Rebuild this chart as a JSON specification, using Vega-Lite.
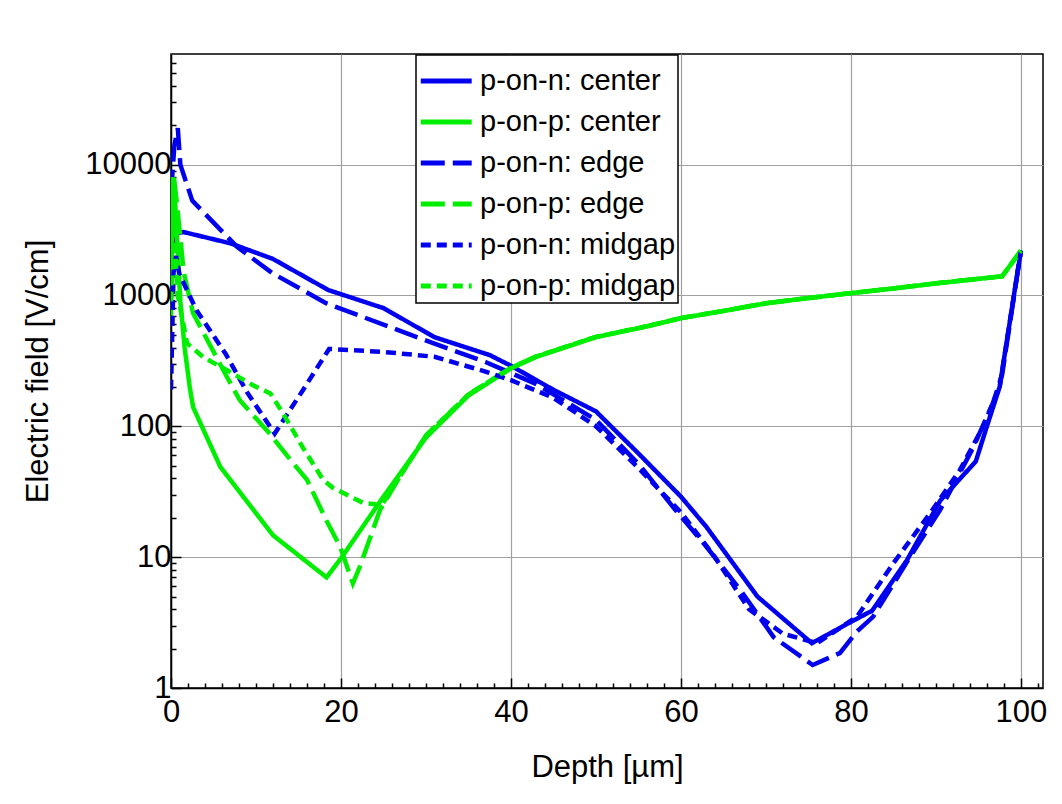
{
  "$schema": "https://vega.github.io/schema/vega-lite/v6.json",
  "width": 872,
  "height": 634,
  "autosize": "none",
  "padding": {"left": 171, "top": 54, "right": 19, "bottom": 116},
  "background": "white",
  "config": {
    "font": "Liberation Sans",
    "view": {"stroke": "black", "strokeWidth": 1.5}
  },
  "data": {
    "values": [
      {"s": "p-on-n: center", "x": 0, "y": 2000},
      {"s": "p-on-n: center", "x": 0.6, "y": 3000},
      {"s": "p-on-n: center", "x": 1.5, "y": 3050},
      {"s": "p-on-n: center", "x": 7, "y": 2500},
      {"s": "p-on-n: center", "x": 12, "y": 1900},
      {"s": "p-on-n: center", "x": 18.5, "y": 1100},
      {"s": "p-on-n: center", "x": 25, "y": 800},
      {"s": "p-on-n: center", "x": 31, "y": 480},
      {"s": "p-on-n: center", "x": 37.5, "y": 350},
      {"s": "p-on-n: center", "x": 40, "y": 290},
      {"s": "p-on-n: center", "x": 45, "y": 190},
      {"s": "p-on-n: center", "x": 50, "y": 130},
      {"s": "p-on-n: center", "x": 55, "y": 62},
      {"s": "p-on-n: center", "x": 60, "y": 29},
      {"s": "p-on-n: center", "x": 63, "y": 17},
      {"s": "p-on-n: center", "x": 69, "y": 5},
      {"s": "p-on-n: center", "x": 75.4, "y": 2.2},
      {"s": "p-on-n: center", "x": 80, "y": 3.2},
      {"s": "p-on-n: center", "x": 82.5, "y": 3.9},
      {"s": "p-on-n: center", "x": 86.6, "y": 9.5},
      {"s": "p-on-n: center", "x": 90.5, "y": 27},
      {"s": "p-on-n: center", "x": 94.7, "y": 54},
      {"s": "p-on-n: center", "x": 96, "y": 100},
      {"s": "p-on-n: center", "x": 97.5, "y": 200},
      {"s": "p-on-n: center", "x": 100, "y": 2200},

      {"s": "p-on-p: center", "x": 0, "y": 700},
      {"s": "p-on-p: center", "x": 0.2, "y": 7000},
      {"s": "p-on-p: center", "x": 0.5, "y": 5000},
      {"s": "p-on-p: center", "x": 1.1, "y": 900},
      {"s": "p-on-p: center", "x": 1.6, "y": 400},
      {"s": "p-on-p: center", "x": 2.2, "y": 200},
      {"s": "p-on-p: center", "x": 2.6, "y": 140},
      {"s": "p-on-p: center", "x": 5.8, "y": 49},
      {"s": "p-on-p: center", "x": 12, "y": 14.7},
      {"s": "p-on-p: center", "x": 18.3, "y": 7},
      {"s": "p-on-p: center", "x": 20.1, "y": 10},
      {"s": "p-on-p: center", "x": 25, "y": 29},
      {"s": "p-on-p: center", "x": 30, "y": 82},
      {"s": "p-on-p: center", "x": 35, "y": 172},
      {"s": "p-on-p: center", "x": 40, "y": 277},
      {"s": "p-on-p: center", "x": 43, "y": 340},
      {"s": "p-on-p: center", "x": 50, "y": 480},
      {"s": "p-on-p: center", "x": 56, "y": 580},
      {"s": "p-on-p: center", "x": 60, "y": 670},
      {"s": "p-on-p: center", "x": 65, "y": 760},
      {"s": "p-on-p: center", "x": 70, "y": 870},
      {"s": "p-on-p: center", "x": 75, "y": 955},
      {"s": "p-on-p: center", "x": 80, "y": 1040},
      {"s": "p-on-p: center", "x": 85, "y": 1130},
      {"s": "p-on-p: center", "x": 90, "y": 1235},
      {"s": "p-on-p: center", "x": 97.8, "y": 1400},
      {"s": "p-on-p: center", "x": 100, "y": 2200},

      {"s": "p-on-n: edge", "x": 0, "y": 6000},
      {"s": "p-on-n: edge", "x": 0.4, "y": 14000},
      {"s": "p-on-n: edge", "x": 0.8, "y": 19000},
      {"s": "p-on-n: edge", "x": 1.1, "y": 10000},
      {"s": "p-on-n: edge", "x": 2.5, "y": 5300},
      {"s": "p-on-n: edge", "x": 7.8, "y": 2340},
      {"s": "p-on-n: edge", "x": 12, "y": 1470},
      {"s": "p-on-n: edge", "x": 18.3, "y": 870},
      {"s": "p-on-n: edge", "x": 29.3, "y": 470},
      {"s": "p-on-n: edge", "x": 37, "y": 310},
      {"s": "p-on-n: edge", "x": 43, "y": 210},
      {"s": "p-on-n: edge", "x": 50, "y": 112},
      {"s": "p-on-n: edge", "x": 55.2, "y": 50},
      {"s": "p-on-n: edge", "x": 59.1, "y": 24},
      {"s": "p-on-n: edge", "x": 63, "y": 12},
      {"s": "p-on-n: edge", "x": 67, "y": 5.6},
      {"s": "p-on-n: edge", "x": 70.9, "y": 2.45},
      {"s": "p-on-n: edge", "x": 75.5, "y": 1.5},
      {"s": "p-on-n: edge", "x": 78.7, "y": 1.85},
      {"s": "p-on-n: edge", "x": 80.7, "y": 2.7},
      {"s": "p-on-n: edge", "x": 82.6, "y": 3.5},
      {"s": "p-on-n: edge", "x": 86.6, "y": 9.2},
      {"s": "p-on-n: edge", "x": 90.5, "y": 23},
      {"s": "p-on-n: edge", "x": 94.4, "y": 69},
      {"s": "p-on-n: edge", "x": 96.7, "y": 150},
      {"s": "p-on-n: edge", "x": 97.8, "y": 250},
      {"s": "p-on-n: edge", "x": 100, "y": 2200},

      {"s": "p-on-p: edge", "x": 0, "y": 3000},
      {"s": "p-on-p: edge", "x": 0.3, "y": 8500},
      {"s": "p-on-p: edge", "x": 0.7, "y": 5000},
      {"s": "p-on-p: edge", "x": 1.5, "y": 1500},
      {"s": "p-on-p: edge", "x": 2.6, "y": 730},
      {"s": "p-on-p: edge", "x": 6.6, "y": 237},
      {"s": "p-on-p: edge", "x": 8.1, "y": 158},
      {"s": "p-on-p: edge", "x": 11.6, "y": 88},
      {"s": "p-on-p: edge", "x": 14.4, "y": 52},
      {"s": "p-on-p: edge", "x": 16, "y": 39},
      {"s": "p-on-p: edge", "x": 18.3, "y": 19},
      {"s": "p-on-p: edge", "x": 19.9, "y": 12},
      {"s": "p-on-p: edge", "x": 21.4, "y": 6.3},
      {"s": "p-on-p: edge", "x": 22.2, "y": 8.4},
      {"s": "p-on-p: edge", "x": 24.6, "y": 23},
      {"s": "p-on-p: edge", "x": 26.9, "y": 41},
      {"s": "p-on-p: edge", "x": 30, "y": 85},
      {"s": "p-on-p: edge", "x": 35, "y": 175},
      {"s": "p-on-p: edge", "x": 40, "y": 280},
      {"s": "p-on-p: edge", "x": 43, "y": 342},
      {"s": "p-on-p: edge", "x": 50, "y": 482},
      {"s": "p-on-p: edge", "x": 56, "y": 582},
      {"s": "p-on-p: edge", "x": 60, "y": 672},
      {"s": "p-on-p: edge", "x": 65, "y": 762},
      {"s": "p-on-p: edge", "x": 70, "y": 872},
      {"s": "p-on-p: edge", "x": 75, "y": 957},
      {"s": "p-on-p: edge", "x": 80, "y": 1042},
      {"s": "p-on-p: edge", "x": 85, "y": 1132},
      {"s": "p-on-p: edge", "x": 90, "y": 1237},
      {"s": "p-on-p: edge", "x": 97.8, "y": 1402},
      {"s": "p-on-p: edge", "x": 100, "y": 2200},

      {"s": "p-on-n: midgap", "x": 0, "y": 190},
      {"s": "p-on-n: midgap", "x": 0.3, "y": 1500},
      {"s": "p-on-n: midgap", "x": 0.6, "y": 2000},
      {"s": "p-on-n: midgap", "x": 1, "y": 1450},
      {"s": "p-on-n: midgap", "x": 3, "y": 770},
      {"s": "p-on-n: midgap", "x": 6.4, "y": 360},
      {"s": "p-on-n: midgap", "x": 9, "y": 180},
      {"s": "p-on-n: midgap", "x": 12.2, "y": 88},
      {"s": "p-on-n: midgap", "x": 15.5, "y": 188},
      {"s": "p-on-n: midgap", "x": 18.6, "y": 390},
      {"s": "p-on-n: midgap", "x": 25, "y": 370},
      {"s": "p-on-n: midgap", "x": 31, "y": 340},
      {"s": "p-on-n: midgap", "x": 37, "y": 262},
      {"s": "p-on-n: midgap", "x": 40, "y": 225},
      {"s": "p-on-n: midgap", "x": 45, "y": 165},
      {"s": "p-on-n: midgap", "x": 50, "y": 100},
      {"s": "p-on-n: midgap", "x": 55, "y": 48},
      {"s": "p-on-n: midgap", "x": 60, "y": 22},
      {"s": "p-on-n: midgap", "x": 64, "y": 10},
      {"s": "p-on-n: midgap", "x": 68, "y": 4},
      {"s": "p-on-n: midgap", "x": 72, "y": 2.6},
      {"s": "p-on-n: midgap", "x": 76, "y": 2.2},
      {"s": "p-on-n: midgap", "x": 80.7, "y": 3.5},
      {"s": "p-on-n: midgap", "x": 85, "y": 9},
      {"s": "p-on-n: midgap", "x": 89.3, "y": 21.6},
      {"s": "p-on-n: midgap", "x": 92.8, "y": 46},
      {"s": "p-on-n: midgap", "x": 95.5, "y": 98},
      {"s": "p-on-n: midgap", "x": 97.5, "y": 200},
      {"s": "p-on-n: midgap", "x": 100, "y": 2200},

      {"s": "p-on-p: midgap", "x": 0, "y": 900},
      {"s": "p-on-p: midgap", "x": 0.3, "y": 3500},
      {"s": "p-on-p: midgap", "x": 0.8, "y": 1000},
      {"s": "p-on-p: midgap", "x": 1.9, "y": 430},
      {"s": "p-on-p: midgap", "x": 3.8, "y": 337},
      {"s": "p-on-p: midgap", "x": 6.6, "y": 268},
      {"s": "p-on-p: midgap", "x": 9.7, "y": 205},
      {"s": "p-on-p: midgap", "x": 11.7, "y": 178},
      {"s": "p-on-p: midgap", "x": 13.2, "y": 125},
      {"s": "p-on-p: midgap", "x": 15.5, "y": 69},
      {"s": "p-on-p: midgap", "x": 17.9, "y": 39},
      {"s": "p-on-p: midgap", "x": 19, "y": 34},
      {"s": "p-on-p: midgap", "x": 22.6, "y": 26},
      {"s": "p-on-p: midgap", "x": 24.8, "y": 25},
      {"s": "p-on-p: midgap", "x": 26.9, "y": 41},
      {"s": "p-on-p: midgap", "x": 30, "y": 85},
      {"s": "p-on-p: midgap", "x": 35, "y": 175},
      {"s": "p-on-p: midgap", "x": 40, "y": 280},
      {"s": "p-on-p: midgap", "x": 43, "y": 342},
      {"s": "p-on-p: midgap", "x": 50, "y": 482},
      {"s": "p-on-p: midgap", "x": 56, "y": 582},
      {"s": "p-on-p: midgap", "x": 60, "y": 672},
      {"s": "p-on-p: midgap", "x": 65, "y": 762},
      {"s": "p-on-p: midgap", "x": 70, "y": 872},
      {"s": "p-on-p: midgap", "x": 75, "y": 957},
      {"s": "p-on-p: midgap", "x": 80, "y": 1042},
      {"s": "p-on-p: midgap", "x": 85, "y": 1132},
      {"s": "p-on-p: midgap", "x": 90, "y": 1237},
      {"s": "p-on-p: midgap", "x": 97.8, "y": 1402},
      {"s": "p-on-p: midgap", "x": 100, "y": 2200}
    ]
  },
  "mark": {"type": "line", "strokeWidth": 4.5, "clip": true},
  "encoding": {
    "x": {
      "field": "x",
      "type": "quantitative",
      "scale": {"domain": [0, 102.6], "nice": false, "zero": false},
      "axis": {
        "title": "Depth [µm]",
        "titleFontSize": 31,
        "titleFontWeight": "normal",
        "titleColor": "black",
        "titlePadding": 20,
        "values": [0,2,4,6,8,10,12,14,16,18,20,22,24,26,28,30,32,34,36,38,40,42,44,46,48,50,52,54,56,58,60,62,64,66,68,70,72,74,76,78,80,82,84,86,88,90,92,94,96,98,100,102],
        "labelExpr": "datum.value % 20 === 0 ? datum.value : ''",
        "labelFontSize": 31,
        "labelColor": "black",
        "labelPadding": 19,
        "labelOverlap": false,
        "labelFlush": false,
        "domainColor": "black",
        "domainWidth": 1.5,
        "tickColor": "black",
        "tickWidth": 1.5,
        "tickSize": {"condition": {"test": "datum.value % 20 === 0", "value": -10}, "value": -5},
        "grid": true,
        "gridColor": "#a0a0a0",
        "gridWidth": 1.2,
        "gridOpacity": {"condition": {"test": "datum.value % 20 === 0", "value": 1}, "value": 0}
      }
    },
    "y": {
      "field": "y",
      "type": "quantitative",
      "scale": {"type": "log", "domain": [1, 70000], "nice": false},
      "axis": {
        "title": "Electric field [V/cm]",
        "titleFontSize": 31,
        "titleFontWeight": "normal",
        "titleColor": "black",
        "titlePadding": 30,
        "values": [1,2,3,4,5,6,7,8,9,10,20,30,40,50,60,70,80,90,100,200,300,400,500,600,700,800,900,1000,2000,3000,4000,5000,6000,7000,8000,9000,10000,20000,30000,40000,50000,60000],
        "labelExpr": "indexof([1,10,100,1000,10000], datum.value) >= 0 ? format(datum.value, 'd') : ''",
        "labelFontSize": 31,
        "labelColor": "black",
        "labelPadding": 10,
        "labelOverlap": false,
        "labelFlush": false,
        "domainColor": "black",
        "domainWidth": 1.5,
        "tickColor": "black",
        "tickWidth": 1.5,
        "tickSize": {"condition": {"test": "indexof([1,10,100,1000,10000], datum.value) >= 0", "value": -10}, "value": -5},
        "grid": true,
        "gridColor": "#a0a0a0",
        "gridWidth": 1.2,
        "gridOpacity": {"condition": {"test": "indexof([1,10,100,1000,10000], datum.value) >= 0", "value": 1}, "value": 0}
      }
    },
    "color": {
      "field": "s",
      "type": "nominal",
      "scale": {
        "domain": ["p-on-n: center", "p-on-p: center", "p-on-n: edge", "p-on-p: edge", "p-on-n: midgap", "p-on-p: midgap"],
        "range": ["#0000ee", "#00ee00", "#0000ee", "#00ee00", "#0000ee", "#00ee00"]
      },
      "legend": {
        "title": null,
        "orient": "none",
        "legendX": 245,
        "legendY": 1,
        "fillColor": "white",
        "strokeColor": "black",
        "padding": 2,
        "symbolType": "M-1,0H1.4",
        "symbolSize": 1800,
        "symbolStrokeWidth": 5,
        "labelFontSize": 29,
        "labelColor": "black",
        "labelOffset": 14,
        "labelLimit": 400,
        "rowPadding": 2,
        "encode": {"legend": {"update": {"strokeWidth": {"value": 1.5}}}}
      }
    },
    "strokeDash": {
      "field": "s",
      "type": "nominal",
      "scale": {
        "domain": ["p-on-n: center", "p-on-p: center", "p-on-n: edge", "p-on-p: edge", "p-on-n: midgap", "p-on-p: midgap"],
        "range": [[1, 0], [1, 0], [24, 8], [24, 8], [10, 6], [10, 6]]
      }
    }
  }
}
